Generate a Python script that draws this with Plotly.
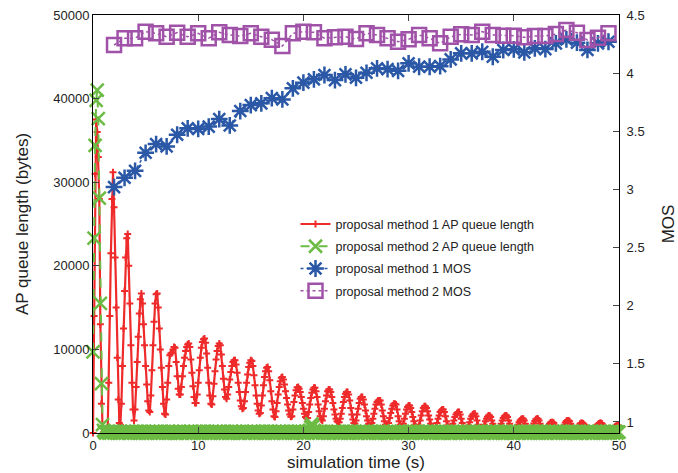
import plotly.graph_objects as go

# ---------------- data ----------------
# AP queue length sampled every 0.1 s from 0 to 50 s
queue_m1 = [
    0, 14000, 31000, 37500, 36000, 33000, 28000, 13000, 3500, 600,
    100, 0, 200, 300, 600, 6000, 14000, 21500, 28000, 31200,
    27000, 21000, 15000, 9000, 4000, 1200, 1000, 3500, 8000, 12500,
    17000, 21000, 23300, 23800, 20000, 15500, 10500, 6000, 2800, 1500,
    2800, 5500, 8500, 11500, 14300, 16000, 16700, 15500, 13000, 10500,
    8000, 5800, 3800, 2700, 2500, 4500, 7500, 10500, 13300, 15500,
    16600, 16700, 15000, 12500, 10000, 7800, 5500, 3500, 2300, 2200,
    4000, 6000, 8000, 9300, 9500, 9600, 10000, 10300, 10200, 8500,
    6800, 5300, 4600, 4600, 5500, 6800, 8000, 9000, 9800, 10300,
    10600, 10700, 10300, 8800, 7200, 5600, 4300, 3600, 3600, 4600,
    6000, 7500, 9000, 10200, 10900, 11200, 11300, 10800, 9500, 7800,
    6000, 4500, 3500, 3400, 4400, 5900, 7400, 8800, 9800, 10400,
    10700, 10500, 9400, 8000, 6500, 5200, 4300, 4100, 4600, 5500,
    6400, 7300, 8000, 8500, 8700, 8700, 8200, 7200, 6000, 4900,
    3900, 3200, 2900, 3000, 3800, 4900, 6000, 7000, 7900, 8400,
    8700, 8600, 8000, 6900, 5700, 4500, 3500, 2700, 2300, 2400,
    3300, 4500, 5700, 6700, 7400, 7800, 7900, 7400, 6300, 5000,
    3800, 2800, 2000, 1900, 2600, 3600, 4600, 5500, 6200, 6600,
    6700, 6400, 5800, 5000, 4200, 3400, 2700, 2200, 1950, 2000,
    2800, 3700, 4500, 5100, 5450, 5500, 5300, 4900, 4300, 3600,
    2900, 2300, 1900, 1750, 1800, 2500, 3400, 4200, 4800, 5200,
    5400, 5400, 5000, 4300, 3400, 2600, 2000, 1600, 1500, 2000,
    2900, 3800, 4500, 5000, 5200, 5200, 4900, 4300, 3600, 2800,
    2200, 1700, 1400, 1300, 1300, 1700, 2300, 3000, 3700, 4300,
    4700, 4900, 4900, 4600, 3900, 3000, 2200, 1600, 1200, 1100,
    1500, 2200, 2900, 3600, 4100, 4300, 4300, 4000, 3400, 2700,
    2000, 1500, 1100, 900, 900, 1200, 1700, 2300, 2900, 3400,
    3700, 3900, 3900, 3900, 3400, 2700, 2000, 1400, 1000, 800,
    800, 1200, 1800, 2400, 2900, 3300, 3500, 3500, 3400, 2800,
    2000, 1400, 1000, 750, 700, 1100, 1700, 2300, 2800, 3100,
    3300, 3300, 3000, 2500, 1900, 1400, 1000, 750, 600, 600,
    900, 1500, 2100, 2600, 3000, 3200, 3200, 3000, 2600, 2100,
    1600, 1100, 800, 600, 500, 500, 800, 1200, 1700, 2100,
    2500, 2700, 2800, 2800, 2500, 2000, 1400, 900, 600, 400,
    400, 700, 1100, 1500, 1900, 2200, 2400, 2500, 2500, 2200,
    1700, 1200, 800, 500, 300, 300, 500, 900, 1300, 1700,
    2000, 2200, 2300, 2300, 2000, 1500, 1000, 600, 400, 300,
    300, 600, 1000, 1400, 1700, 1950, 2100, 2100, 1900, 1500,
    1100, 700, 400, 250, 200, 200, 400, 700, 1100, 1500,
    1800, 2000, 2100, 2100, 1900, 1500, 1100, 750, 450, 250,
    200, 200, 400, 700, 1000, 1300, 1500, 1650, 1700, 1700,
    1500, 1100, 700, 400, 200, 150, 150, 400, 800, 1150,
    1450, 1650, 1700, 1700, 1500, 1100, 700, 400, 200, 100,
    100, 300, 600, 900, 1100, 1250, 1300, 1300, 1200, 900,
    600, 350, 200, 100, 100, 100, 300, 650, 1000, 1250,
    1450, 1500, 1500, 1400, 1100, 700, 400, 200, 100, 100,
    300, 600, 900, 1100, 1200, 1200, 1150, 1000, 750, 500,
    300, 150, 80, 50, 50, 50, 200, 450, 700, 900,
    1050, 1150, 1200, 1200, 1100, 900, 650, 400, 200, 100,
    50, 50, 50, 200, 400, 600, 750, 850, 900, 900,
    850,
]

queue_m2 = [
    9700, 23300, 34400, 39800, 41000, 37600, 28100, 15500, 5900, 1000,
    300, 100, 0, 100, 200, 0, 100, 0, 200, 100,
    0, 100, 200, 0, 100, 0, 200, 100, 0, 100,
    200, 0, 100, 200, 0, 100, 0, 200, 100, 0,
    100, 200, 0, 100, 0, 200, 100, 0, 100, 200,
    0, 100, 0, 200, 100, 0, 100, 200, 0, 100,
    200, 0, 100, 0, 200, 100, 0, 100, 200, 0,
    100, 0, 200, 100, 0, 100, 200, 0, 100, 0,
    0, 100, 200, 0, 100, 0, 200, 100, 0, 100,
    200, 0, 100, 200, 0, 100, 0, 200, 100, 0,
    100, 200, 0, 100, 0, 200, 100, 0, 100, 200,
    0, 100, 0, 200, 100, 0, 100, 200, 0, 100,
    200, 0, 100, 0, 200, 100, 0, 100, 200, 0,
    100, 0, 200, 100, 0, 100, 200, 0, 100, 0,
    0, 100, 200, 0, 100, 0, 200, 100, 0, 100,
    200, 0, 100, 200, 0, 100, 0, 200, 100, 0,
    100, 200, 0, 100, 0, 200, 100, 0, 100, 200,
    0, 100, 0, 200, 100, 0, 100, 200, 0, 100,
    200, 0, 100, 0, 200, 100, 0, 100, 200, 0,
    100, 0, 200, 100, 0, 100, 200, 0, 100, 0,
    100, 0, 200, 100, 0, 200, 300, 700, 1100, 800,
    300, 100, 0, 200, 100, 0, 100, 200, 0, 100,
    0, 100, 200, 0, 100, 0, 200, 100, 0, 100,
    200, 0, 100, 200, 0, 100, 0, 200, 100, 0,
    100, 200, 0, 100, 0, 200, 100, 0, 100, 200,
    0, 100, 0, 200, 100, 0, 100, 200, 0, 100,
    200, 0, 100, 0, 200, 100, 0, 100, 200, 0,
    100, 0, 200, 100, 0, 100, 200, 0, 100, 0,
    0, 100, 200, 0, 100, 0, 200, 100, 0, 100,
    200, 0, 100, 200, 0, 100, 0, 200, 100, 0,
    100, 200, 0, 100, 0, 200, 100, 0, 100, 200,
    0, 100, 0, 200, 100, 0, 100, 200, 0, 100,
    200, 0, 100, 0, 200, 100, 0, 100, 200, 0,
    100, 0, 200, 100, 0, 100, 200, 0, 100, 0,
    0, 100, 200, 0, 100, 0, 200, 100, 0, 100,
    200, 0, 100, 200, 0, 100, 0, 200, 100, 0,
    100, 200, 0, 100, 0, 200, 100, 0, 100, 200,
    0, 100, 0, 200, 100, 0, 100, 200, 0, 100,
    200, 0, 100, 0, 200, 100, 0, 100, 200, 0,
    100, 0, 200, 100, 0, 100, 200, 0, 100, 0,
    0, 100, 200, 0, 100, 0, 200, 100, 0, 100,
    200, 0, 100, 200, 0, 100, 0, 200, 100, 0,
    100, 200, 0, 100, 0, 200, 100, 0, 100, 200,
    0, 100, 0, 200, 100, 0, 100, 200, 0, 100,
    200, 0, 100, 0, 200, 100, 0, 100, 200, 0,
    100, 0, 200, 100, 0, 100, 200, 0, 100, 0,
    0, 100, 200, 0, 100, 0, 200, 100, 0, 100,
    200, 0, 100, 200, 0, 100, 0, 200, 100, 0,
    100, 200, 0, 100, 0, 200, 100, 0, 100, 200,
    0, 100, 0, 200, 100, 0, 100, 200, 0, 100,
    100,
]

queue_time = [round(i * 0.1, 1) for i in range(len(queue_m1))]

mos_time = list(range(2, 50))
mos_m1 = [
    3.02, 3.10, 3.16, 3.315, 3.39, 3.37, 3.47, 3.525, 3.52, 3.54,
    3.605, 3.55, 3.674, 3.725, 3.74, 3.785, 3.774, 3.869, 3.918, 3.947,
    3.984, 3.94, 3.99, 3.96, 4.003, 4.041, 4.035, 4.02, 4.084, 4.055,
    4.055, 4.06, 4.118, 4.17, 4.17, 4.184, 4.141, 4.199, 4.205, 4.179,
    4.213, 4.207, 4.256, 4.29, 4.262, 4.2, 4.256, 4.27,
]
mos_m2 = [
    4.242, 4.30, 4.30, 4.357, 4.342, 4.313, 4.348, 4.313, 4.342, 4.30,
    4.351, 4.328, 4.319, 4.342, 4.313, 4.288, 4.233, 4.342, 4.357, 4.351,
    4.30, 4.308, 4.313, 4.293, 4.342, 4.328, 4.30, 4.27, 4.291, 4.328,
    4.30, 4.256, 4.313, 4.334, 4.328, 4.357, 4.328, 4.322, 4.322, 4.308,
    4.319, 4.319, 4.336, 4.371, 4.348, 4.285, 4.305, 4.342,
]

names = [
    "proposal method 1 AP queue length",
    "proposal method 2 AP queue length",
    "proposal method 1 MOS",
    "proposal method 2 MOS",
]

x_ticks = [0, 10, 20, 30, 40, 50]
y_ticks = [0, 10000, 20000, 30000, 40000, 50000]
y_ticklabels = ["0", "10000", "20000", "30000", "40000", "50000"]
y2_ticks = [1, 1.5, 2, 2.5, 3, 3.5, 4, 4.5]
y2_ticklabels = ["1", "1.5", "2", "2.5", "3", "3.5", "4", "4.5"]

RED = "#ee2a2a"
GREEN = "#6cbb44"
BLUE = "#2a58a6"
PURPLE = "#a052a8"
FONT = "Liberation Sans, Arial, Helvetica, sans-serif"

fig = go.Figure()
fig.add_trace(go.Scatter(
    x=queue_time, y=queue_m1, name=names[0], mode="lines+markers",
    line=dict(color=RED, width=2.2),
    marker=dict(symbol="cross-thin-open", size=5, line=dict(color=RED, width=2)),
    cliponaxis=False, legendgroup="a",
))
fig.add_trace(go.Scatter(
    x=queue_time, y=queue_m2, name=names[1], mode="lines+markers",
    line=dict(color=GREEN, width=2, dash="dash"),
    marker=dict(symbol="x-thin-open", size=13, line=dict(color=GREEN, width=2.5)),
    cliponaxis=False, legendgroup="b",
))
fig.add_trace(go.Scatter(
    x=mos_time, y=mos_m1, name=names[2], mode="lines+markers", yaxis="y2",
    line=dict(color=BLUE, width=1.5, dash="dot"),
    marker=dict(symbol="asterisk-open", size=14, line=dict(color=BLUE, width=2.5)),
    legendgroup="c",
))
fig.add_trace(go.Scatter(
    x=mos_time, y=mos_m2, name=names[3], mode="lines+markers", yaxis="y2",
    line=dict(color=PURPLE, width=1.5, dash="dot"),
    marker=dict(symbol="square-open", size=14, line=dict(color=PURPLE, width=2.5)),
    legendgroup="d",
))

axis_common = dict(
    showgrid=False, zeroline=False, showline=True, linecolor="black", linewidth=1,
    ticks="inside", ticklen=6, tickcolor="#444", automargin=False,
    tickfont=dict(family=FONT, size=13, color="#222"),
)

fig.update_layout(
    width=678, height=473,
    margin=dict(l=93, r=59, t=15, b=40),
    paper_bgcolor="white", plot_bgcolor="white",
    font=dict(family=FONT, color="#222"),
    showlegend=True,
    legend=dict(
        x=0.385, y=0.535, xanchor="left", yanchor="top",
        bgcolor="rgba(0,0,0,0)", font=dict(family=FONT, size=12.5, color="#222"),
        tracegroupgap=3,
    ),
    xaxis=dict(
        range=[0, 50], tickvals=x_ticks, mirror="ticks",
        title=dict(text="simulation time (s)", font=dict(family=FONT, size=17), standoff=2),
        **axis_common,
    ),
    yaxis=dict(
        range=[0, 50000], tickvals=y_ticks, ticktext=y_ticklabels, mirror=True,
        title=dict(text="AP queue length (bytes)", font=dict(family=FONT, size=17), standoff=20),
        **axis_common,
    ),
    yaxis2=dict(
        range=[0.905, 4.5], tickvals=y2_ticks, ticktext=y2_ticklabels,
        overlaying="y", side="right", ticklabelstandoff=4,
        title=dict(text="MOS", font=dict(family=FONT, size=17), standoff=20),
        **axis_common,
    ),
)

fig.write_html("out.html")
